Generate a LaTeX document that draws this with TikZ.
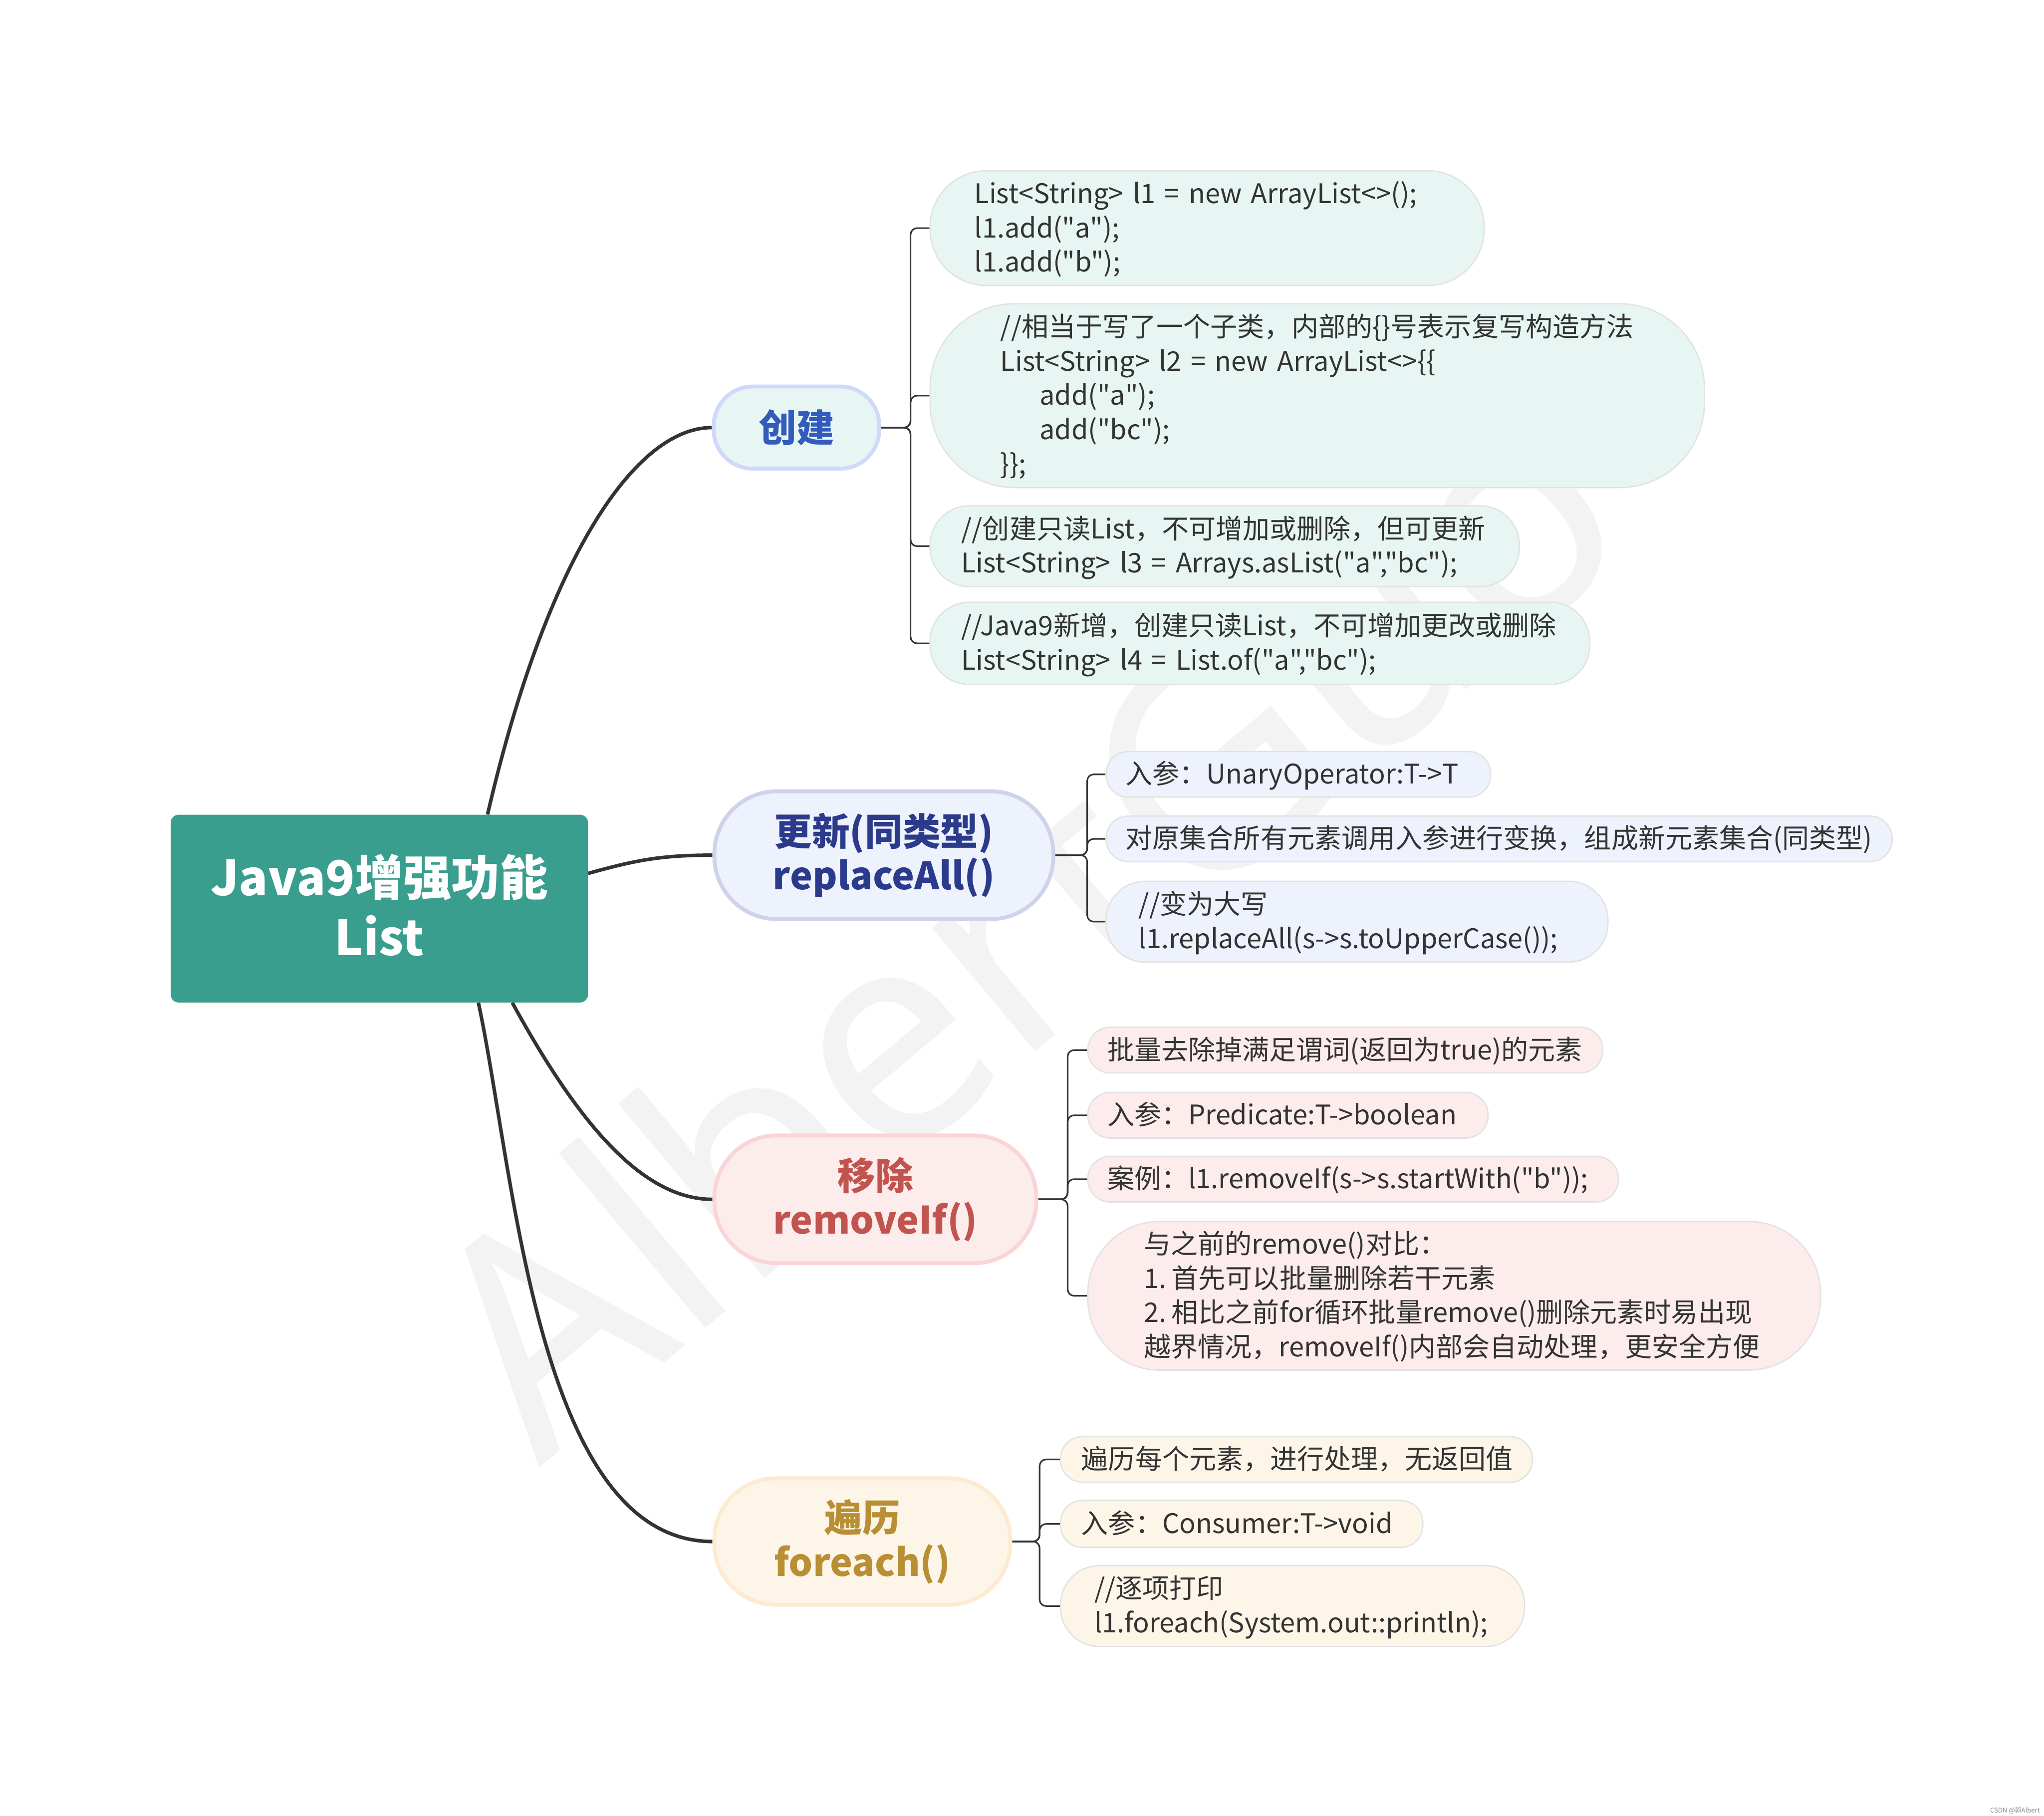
\documentclass[tikz,border=0pt]{standalone}
\usepackage{fontspec}
\newfontfamily\cjkf{Noto Sans CJK SC}
\newfontfamily\wmfont{Noto Sans}
\usetikzlibrary{backgrounds}
\pgfdeclarelayer{bottom}
\pgfsetlayers{bottom,background,main}
\definecolor{rootc}{HTML}{3A9E8E}
\definecolor{linec}{HTML}{333333}
\definecolor{txt}{HTML}{333333}
\definecolor{leafb}{HTML}{E2E2E2}
\definecolor{tealf}{HTML}{E8F6F3}
\definecolor{tealb}{HTML}{D0D8FB}
\definecolor{tealt}{HTML}{335BBD}
\definecolor{bluef}{HTML}{EDF2FD}
\definecolor{blueb}{HTML}{D0D2EC}
\definecolor{bluet}{HTML}{2C3A8C}
\definecolor{pinkf}{HTML}{FDECEC}
\definecolor{pinkb}{HTML}{FAD5D6}
\definecolor{pinkt}{HTML}{C2544F}
\definecolor{goldf}{HTML}{FEF5E9}
\definecolor{goldb}{HTML}{FDEBD1}
\definecolor{goldt}{HTML}{B88F35}
\definecolor{wmc}{HTML}{F3F3F3}
\newcommand\ltext[2]{\raisebox{-2pt}[\height][\depth]{\makebox[#1][l]{\begin{tabular}{@{}l@{}}#2\end{tabular}}}}
\begin{document}
\begin{tikzpicture}[x=1pt,y=-1pt,
  rootbox/.style={fill=rootc, rounded corners=6pt, text=white, align=center, inner sep=0pt, text depth=6pt,
     font=\cjkf\fontsize{37}{46}\selectfont\bfseries},
  branch/.style={line width=3pt, inner sep=0pt, align=center,
     font=\cjkf\fontsize{29}{34}\selectfont\bfseries},
  leaf/.style={draw=leafb, line width=1pt, text=txt, inner ysep=0pt, anchor=west,
     font=\cjkf\fontsize{20.7}{26.3}\selectfont, execute at begin node={\spaceskip=7pt\relax}},
  mainline/.style={draw=linec, line width=2.7pt},
  brk/.style={draw=linec, line width=1.2pt, rounded corners=5pt},
]
\begin{pgfonlayer}{bottom}
\fill[white] (0,0) rectangle (1568,1393);
\end{pgfonlayer}
\useasboundingbox (0,0) rectangle (1568,1393);

% root
\node[rootbox, minimum width=320pt, minimum height=144pt] (root) at (291,697) {Java9增强功能\\List};

% branches
\node[branch, fill=tealf, draw=tealb, text=tealt, minimum width=127pt, minimum height=63pt, rounded corners=30pt] (b1) at (611,328) {创建};
\node[branch, fill=bluef, draw=blueb, text=bluet, minimum width=260pt, minimum height=98pt, rounded corners=48pt] (b2) at (678,656) {更新(同类型)\\replaceAll()};
\node[branch, fill=pinkf, draw=pinkb, text=pinkt, minimum width=247pt, minimum height=98pt, rounded corners=48pt] (b3) at (671.5,920) {移除\\removeIf()};
\node[branch, fill=goldf, draw=goldb, text=goldt, minimum width=227pt, minimum height=97pt, rounded corners=47pt] (b4) at (661.5,1182.5) {遍历\\foreach()};

% leaves of 创建
\node[leaf, fill=tealf, minimum width=425pt, minimum height=88pt, rounded corners=43pt, inner xsep=34pt] (c1) at (713,175)
  {\ltext{357pt}{List<String> l1 = new ArrayList<>();\\l1.add("a");\\l1.add("b");}};
\node[leaf, fill=tealf, minimum width=594pt, minimum height=141pt, rounded corners=65pt, inner xsep=54pt] (c2) at (713,303.5)
  {\ltext{486pt}{//相当于写了一个子类，内部的\{\}号表示复写构造方法\\List<String> l2 = new ArrayList<>\{\{\\\hspace*{30pt}add("a");\\\hspace*{30pt}add("bc");\\\}\};}};
\node[leaf, fill=tealf, minimum width=452pt, minimum height=62pt, rounded corners=30pt, inner xsep=24pt] (c3) at (713,419)
  {\ltext{404pt}{//创建只读List，不可增加或删除，但可更新\\List<String> l3 = Arrays.asList("a","bc");}};
\node[leaf, fill=tealf, minimum width=506pt, minimum height=63pt, rounded corners=30pt, inner xsep=24pt] (c4) at (713,493.5)
  {\ltext{458pt}{//Java9新增，创建只读List，不可增加更改或删除\\List<String> l4 = List.of("a","bc");}};

% leaves of replaceAll
\node[leaf, fill=bluef, minimum width=295pt, minimum height=35pt, rounded corners=17pt, inner xsep=15pt] (r1) at (848,594)
  {\ltext{265pt}{入参：UnaryOperator:T->T}};
\node[leaf, fill=bluef, minimum width=603pt, minimum height=35pt, rounded corners=17pt, inner xsep=15pt] (r2) at (848,643.5)
  {\ltext{573pt}{对原集合所有元素调用入参进行变换，组成新元素集合(同类型)}};
\node[leaf, fill=bluef, minimum width=385pt, minimum height=62pt, rounded corners=30pt, inner xsep=25pt] (r3) at (848,707)
  {\ltext{335pt}{//变为大写\\l1.replaceAll(s->s.toUpperCase());}};

% leaves of removeIf
\node[leaf, fill=pinkf, minimum width=395pt, minimum height=35pt, rounded corners=17pt, inner xsep=15pt] (m1) at (834,805.5)
  {\ltext{365pt}{批量去除掉满足谓词(返回为true)的元素}};
\node[leaf, fill=pinkf, minimum width=307pt, minimum height=35pt, rounded corners=17pt, inner xsep=15pt] (m2) at (834,855.5)
  {\ltext{277pt}{入参：Predicate:T->boolean}};
\node[leaf, fill=pinkf, minimum width=407pt, minimum height=35pt, rounded corners=17pt, inner xsep=15pt] (m3) at (834,904.5)
  {\ltext{377pt}{案例：l1.removeIf(s->s.startWith("b"));}};
\node[leaf, fill=pinkf, minimum width=562pt, minimum height=114pt, rounded corners=55pt, inner xsep=43pt] (m4) at (834,994)
  {\ltext{476pt}{与之前的remove()对比：\\1.\hspace{4pt}首先可以批量删除若干元素\\2.\hspace{4pt}相比之前for循环批量remove()删除元素时易出现\\越界情况，removeIf()内部会自动处理，更安全方便}};

% leaves of foreach
\node[leaf, fill=goldf, minimum width=362pt, minimum height=35pt, rounded corners=17pt, inner xsep=16pt] (f1) at (813,1119.5)
  {\ltext{330pt}{遍历每个元素，进行处理，无返回值}};
\node[leaf, fill=goldf, minimum width=278pt, minimum height=36pt, rounded corners=17pt, inner xsep=16pt] (f2) at (813,1169)
  {\ltext{246pt}{入参：Consumer:T->void}};
\node[leaf, fill=goldf, minimum width=356pt, minimum height=62pt, rounded corners=30pt, inner xsep=26pt] (f3) at (813,1232)
  {\ltext{304pt}{//逐项打印\\l1.foreach(System.out::println);}};

% small credit
\node[font=\cjkf\fontsize{5}{6}\selectfont, text=black!45, anchor=east, inner sep=0pt] (csdn) at (1565,1389) {CSDN @郭Albert};

% bracket joints
\coordinate (k1) at (698.5,328);
\coordinate (k2) at (834,656);
\coordinate (k3) at (819,920);
\coordinate (k4) at (797.5,1182.5);

\begin{scope}[on background layer]
  \node[rotate=40, text=wmc, font=\wmfont\fontsize{230}{230}\selectfont, inner sep=0pt] (wm) at (781,705) {AlbertGuo};
  % main curves
  \draw[mainline] ([xshift=83pt]root.north) .. controls (420,426) and (488,328) .. (b1.west);
  \draw[mainline] ([yshift=27pt]root.east) .. controls (490,659) and (510,656) .. (b2.west);
  \draw[mainline] ([xshift=102pt]root.south) .. controls (440,855) and (490,920) .. (b3.west);
  \draw[mainline] ([xshift=76pt]root.south) .. controls (395,900) and (412,1182) .. (b4.west);
  % brackets
  \foreach \c in {c1,c2,c3,c4} \draw[brk] (b1.east) -- (k1) |- (\c.west);
  \foreach \c in {r1,r2,r3} \draw[brk] (b2.east) -- (k2) |- (\c.west);
  \foreach \c in {m1,m2,m3,m4} \draw[brk] (b3.east) -- (k3) |- (\c.west);
  \foreach \c in {f1,f2,f3} \draw[brk] (b4.east) -- (k4) |- (\c.west);
\end{scope}
\end{tikzpicture}
\end{document}
